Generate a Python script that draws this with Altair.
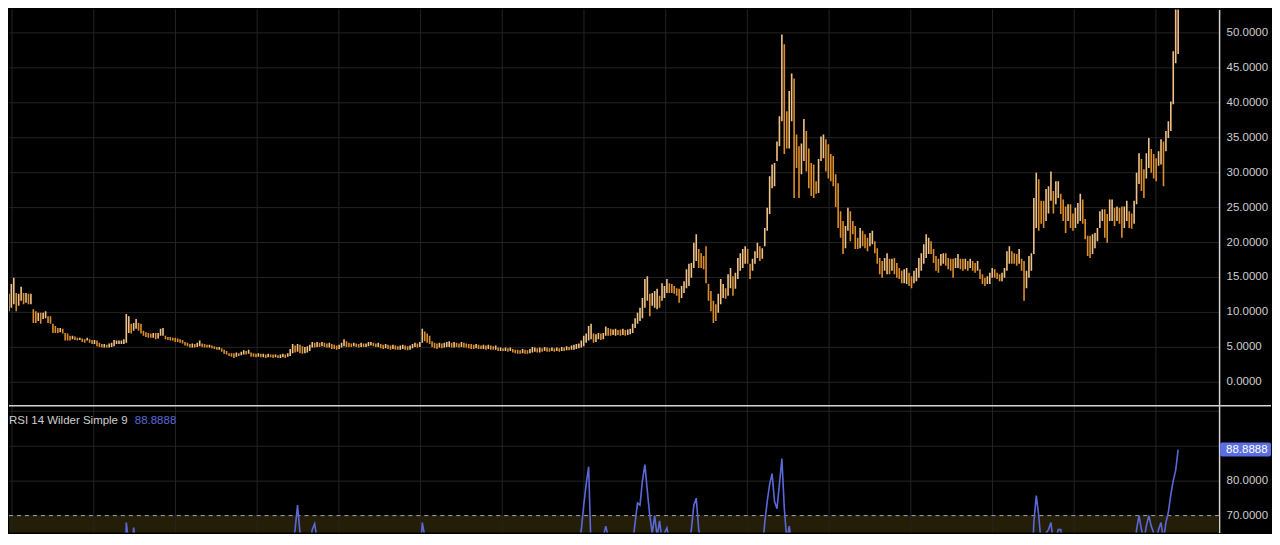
import altair as alt
import pandas as pd

# ---------------- data ----------------
high = [
    10.1, 11.1, 11.6, 12.6, 14.0, 14.9, 12.7, 12.6, 13.6, 12.7,
    12.7, 12.6, 12.6, 10.4, 10.1, 9.9, 9.9, 9.9, 10.1, 9.4,
    9.4, 8.3, 8.0, 7.7, 7.7, 7.6, 7.0, 6.9, 6.6, 6.6,
    6.5, 6.3, 6.3, 6.2, 6.1, 6.3, 6.1, 6.0, 6.0, 5.9,
    5.6, 5.4, 5.4, 5.3, 5.5, 5.6, 6.0, 5.9, 5.9, 5.9,
    6.1, 9.7, 9.4, 8.3, 8.4, 9.0, 8.4, 8.3, 7.3, 7.1,
    7.0, 6.9, 7.0, 7.0, 7.0, 7.6, 7.7, 6.6, 6.4, 6.4,
    6.3, 6.3, 6.2, 6.1, 6.0, 5.7, 5.6, 5.4, 5.5, 5.4,
    5.6, 5.9, 5.5, 5.4, 5.3, 5.3, 5.2, 5.1, 5.0, 5.0,
    4.8, 4.6, 4.4, 4.1, 4.1, 4.1, 4.2, 4.1, 4.3, 4.5,
    4.4, 4.6, 4.2, 4.1, 4.0, 4.1, 4.0, 4.0, 3.9, 4.0,
    3.9, 3.9, 3.9, 3.8, 3.9, 4.0, 3.9, 4.1, 4.7, 5.4,
    5.2, 5.4, 5.3, 5.1, 5.0, 5.1, 5.3, 5.7, 5.6, 5.7,
    5.6, 5.7, 5.6, 5.5, 5.6, 5.4, 5.3, 5.2, 5.3, 5.6,
    6.1, 5.8, 5.6, 5.5, 5.6, 5.5, 5.4, 5.6, 5.5, 5.5,
    5.7, 5.7, 5.6, 5.5, 5.6, 5.4, 5.3, 5.4, 5.3, 5.2,
    5.3, 5.2, 5.1, 5.2, 5.3, 5.2, 5.1, 5.2, 5.4, 5.6,
    5.5, 5.7, 7.6, 7.2, 6.9, 6.6, 5.8, 5.6, 5.5, 5.6,
    5.5, 5.6, 5.7, 5.8, 5.6, 5.7, 5.6, 5.5, 5.7, 5.6,
    5.5, 5.4, 5.4, 5.3, 5.4, 5.3, 5.2, 5.3, 5.2, 5.3,
    5.2, 5.1, 5.2, 4.9, 4.9, 4.8, 4.9, 4.8, 4.9, 4.7,
    4.6, 4.6, 4.5, 4.7, 4.6, 4.5, 4.7, 5.0, 4.9, 4.8,
    4.9, 4.8, 5.0, 4.9, 4.8, 4.9, 4.8, 4.9, 4.8, 5.0,
    4.9, 5.1, 5.0, 5.2, 5.3, 5.4, 5.5, 5.9, 6.6, 6.9,
    8.0, 8.3, 6.9, 6.8, 7.0, 6.9, 7.0, 7.9, 7.7, 7.6,
    7.5, 7.6, 7.4, 7.5, 7.6, 7.4, 7.5, 7.6, 8.3, 9.1,
    9.9, 10.6, 12.0, 14.7, 15.1, 12.6, 12.7, 13.0, 13.3, 12.3,
    14.1, 13.7, 14.7, 14.1, 14.0, 13.7, 13.4, 13.3, 13.7, 14.4,
    16.1, 16.9, 17.0, 19.9, 21.1, 19.0, 18.4, 18.0, 19.4, 14.0,
    13.0, 11.6, 11.1, 12.6, 14.7, 14.0, 13.4, 15.4, 16.3, 15.1,
    15.6, 17.7, 18.4, 19.0, 19.4, 19.0, 16.9, 17.6, 18.7, 19.9,
    19.4, 19.1, 22.0, 24.9, 29.4, 31.1, 31.3, 34.4, 38.0, 49.7,
    48.3, 38.7, 41.6, 44.1, 43.4, 35.4, 33.7, 34.1, 37.6, 35.9,
    33.4, 31.3, 31.1, 28.7, 31.9, 35.1, 35.4, 34.7, 34.0, 32.6,
    32.3, 29.7, 28.4, 24.4, 23.0, 22.3, 24.9, 24.4, 23.0, 22.3,
    20.6, 22.0, 21.6, 21.1, 20.6, 21.3, 21.6, 20.1, 19.1, 17.7,
    17.3, 17.7, 18.4, 17.6, 17.6, 17.7, 17.0, 16.3, 15.9, 16.1,
    16.3, 15.6, 15.1, 15.9, 16.3, 17.7, 18.4, 19.7, 21.1, 20.6,
    20.1, 19.0, 18.0, 17.6, 18.3, 18.4, 18.4, 17.7, 17.6, 17.6,
    17.7, 18.3, 17.6, 17.6, 17.6, 17.3, 17.6, 17.3, 17.0, 17.3,
    16.1, 15.4, 14.9, 15.1, 15.6, 16.3, 16.1, 15.6, 15.4, 15.6,
    16.3, 18.7, 19.4, 18.7, 18.4, 18.3, 19.0, 17.6, 17.3, 15.9,
    18.0, 18.4, 26.3, 29.9, 29.0, 25.9, 25.9, 27.6, 28.0, 30.1,
    27.3, 28.7, 28.7, 26.9, 26.1, 25.1, 25.4, 25.4, 24.1, 24.9,
    25.6, 26.9, 26.1, 23.3, 20.9, 20.9, 21.1, 21.3, 22.0, 24.4,
    24.7, 24.7, 24.0, 26.1, 26.1, 24.9, 25.1, 24.9, 25.1, 25.1,
    25.9, 24.4, 24.1, 25.9, 29.9, 32.7, 31.9, 30.4, 32.7, 34.9,
    33.3, 32.6, 32.0, 33.0, 34.7, 34.4, 35.9, 37.3, 40.1, 47.3,
    56.0, 58.0,
]

low = [
    6.1, 8.3, 9.0, 10.1, 10.6, 11.1, 10.1, 10.9, 11.6, 11.1,
    11.3, 11.1, 11.1, 8.4, 8.4, 8.7, 8.3, 9.0, 9.1, 8.4,
    8.3, 7.0, 7.0, 7.0, 7.1, 6.9, 5.9, 5.9, 5.9, 6.1,
    6.0, 5.9, 6.0, 5.7, 5.6, 5.9, 5.6, 5.4, 5.4, 5.1,
    5.0, 4.9, 4.9, 4.9, 4.9, 5.0, 5.1, 5.4, 5.4, 5.4,
    5.4, 5.6, 7.0, 6.9, 7.3, 7.6, 7.3, 6.9, 6.6, 6.4,
    6.3, 6.3, 6.3, 6.1, 6.2, 6.6, 6.6, 6.1, 6.0, 5.9,
    5.9, 5.7, 5.7, 5.6, 5.5, 5.2, 5.1, 4.9, 4.9, 4.9,
    5.0, 5.1, 5.0, 4.9, 4.9, 4.9, 4.8, 4.7, 4.6, 4.6,
    4.3, 4.0, 3.9, 3.7, 3.6, 3.4, 3.6, 3.7, 3.8, 3.9,
    3.9, 4.0, 3.6, 3.6, 3.5, 3.6, 3.5, 3.5, 3.4, 3.5,
    3.5, 3.4, 3.5, 3.4, 3.4, 3.5, 3.4, 3.6, 3.7, 4.1,
    4.2, 4.3, 4.1, 4.0, 4.1, 4.2, 4.4, 4.9, 4.9, 5.0,
    5.0, 5.1, 5.0, 4.9, 4.9, 4.7, 4.7, 4.6, 4.7, 4.9,
    5.1, 5.0, 5.0, 5.0, 5.1, 5.0, 4.9, 5.0, 5.0, 5.0,
    5.1, 5.2, 5.1, 5.0, 5.0, 4.8, 4.7, 4.8, 4.7, 4.6,
    4.7, 4.6, 4.6, 4.6, 4.7, 4.6, 4.5, 4.6, 4.8, 5.0,
    4.9, 5.0, 5.6, 5.8, 5.6, 5.4, 5.0, 4.8, 4.7, 4.9,
    4.8, 4.9, 5.0, 5.0, 4.9, 4.9, 5.0, 4.9, 5.0, 4.9,
    4.9, 4.8, 4.7, 4.7, 4.8, 4.7, 4.7, 4.7, 4.6, 4.7,
    4.6, 4.6, 4.6, 4.4, 4.4, 4.4, 4.4, 4.3, 4.4, 4.2,
    4.1, 4.0, 4.0, 4.1, 4.0, 4.0, 4.1, 4.2, 4.3, 4.2,
    4.2, 4.3, 4.4, 4.3, 4.3, 4.4, 4.3, 4.4, 4.3, 4.4,
    4.4, 4.5, 4.5, 4.6, 4.6, 4.7, 4.8, 4.9, 5.1, 5.6,
    5.9, 6.1, 5.6, 5.7, 6.1, 6.0, 6.1, 6.6, 6.6, 6.6,
    6.7, 6.6, 6.7, 6.6, 6.7, 6.6, 6.7, 6.8, 7.0, 7.7,
    8.3, 8.7, 9.1, 10.6, 11.6, 9.4, 10.9, 10.6, 10.4, 10.6,
    11.6, 12.0, 12.7, 12.7, 12.7, 12.6, 12.3, 11.3, 12.0, 12.7,
    13.4, 13.7, 14.9, 16.3, 17.3, 16.3, 16.3, 16.1, 14.1, 11.6,
    10.1, 8.4, 8.7, 9.9, 11.1, 12.0, 11.9, 12.3, 13.4, 12.3,
    13.3, 14.7, 15.9, 16.3, 16.9, 16.9, 14.7, 15.9, 16.9, 17.7,
    17.3, 17.6, 19.4, 21.6, 24.0, 27.7, 28.0, 31.6, 33.7, 37.3,
    32.6, 33.4, 33.4, 37.3, 26.3, 30.6, 26.3, 29.7, 31.6, 30.1,
    27.7, 26.6, 26.3, 26.9, 27.0, 31.6, 32.0, 30.1, 29.1, 28.7,
    28.0, 25.0, 22.0, 20.6, 18.3, 19.1, 21.6, 20.1, 21.1, 19.0,
    19.0, 19.1, 19.4, 19.1, 18.7, 19.4, 19.7, 18.4, 16.9, 15.4,
    14.9, 15.9, 15.4, 15.4, 15.9, 15.4, 14.9, 14.7, 14.1, 14.1,
    14.0, 13.7, 13.4, 14.1, 14.4, 14.9, 15.9, 16.9, 17.7, 18.3,
    18.3, 17.0, 15.9, 15.6, 16.6, 16.9, 16.6, 16.1, 15.9, 14.9,
    16.3, 16.3, 16.1, 15.9, 16.1, 15.9, 16.3, 15.9, 15.6, 15.9,
    14.7, 14.0, 13.7, 14.0, 14.0, 14.9, 14.9, 14.7, 14.4, 14.4,
    14.9, 15.9, 16.9, 16.9, 16.9, 16.6, 16.9, 15.9, 11.6, 13.4,
    14.9, 15.9, 18.3, 22.0, 21.6, 22.6, 22.0, 23.0, 24.1, 25.9,
    24.1, 25.4, 26.3, 24.0, 23.0, 21.3, 23.0, 22.0, 21.6, 22.0,
    22.6, 23.0, 22.6, 20.4, 18.0, 17.7, 18.3, 19.1, 20.1, 22.0,
    23.0, 20.6, 19.9, 23.0, 23.0, 22.3, 23.0, 22.6, 20.6, 22.0,
    23.0, 22.0, 21.9, 22.6, 25.4, 28.3, 27.3, 26.3, 29.1, 30.6,
    29.9, 29.1, 28.7, 30.9, 31.1, 28.0, 33.0, 34.9, 35.9, 39.7,
    45.6, 46.9,
]

rsi = [
    52, 54, 56, 57, 60, 62, 57, 57, 60, 58,
    59, 60, 64, 50, 49, 48, 47, 48, 49, 46,
    46, 42, 41, 40, 40, 39, 36, 36, 35, 36,
    36, 35, 36, 35, 35, 37, 36, 35, 35, 34,
    33, 32, 32, 32, 34, 35, 38, 39, 39, 39,
    41, 68, 62, 58, 66.6, 60, 55, 52, 46, 45,
    44, 44, 45, 44, 45, 49, 50, 44, 43, 42,
    42, 41, 41, 40, 39, 37, 36, 35, 36, 35,
    37, 40, 37, 36, 36, 35, 35, 34, 33, 33,
    31, 29, 28, 27, 27, 27, 30, 32, 35, 38,
    37, 40, 35, 34, 33, 35, 34, 34, 33, 35,
    35, 34, 35, 34, 35, 37, 36, 40, 52, 62,
    66, 73, 65, 60, 57, 58, 61, 66, 67.7, 63,
    64, 62, 60, 58, 56, 52, 50, 48, 51, 55,
    60, 56, 54, 53, 55, 53, 51, 54, 53, 53,
    56, 56, 54, 53, 54, 50, 48, 50, 48, 47,
    49, 47, 46, 48, 50, 48, 46, 48, 52, 55,
    54, 57, 68, 64, 60, 56, 50, 47, 46, 48,
    47, 49, 50, 51, 49, 50, 50, 49, 51, 49,
    48, 47, 46, 45, 47, 45, 44, 45, 44, 45,
    44, 43, 44, 40, 40, 39, 41, 40, 41, 38,
    37, 36, 36, 39, 37, 37, 40, 44, 43, 42,
    43, 42, 45, 44, 43, 45, 44, 45, 44, 47,
    46, 49, 48, 51, 53, 55, 61, 66, 73, 79,
    84, 60, 55, 56, 58, 61, 64, 67, 64, 60,
    58, 59, 56, 57, 58, 56, 57, 58, 62, 68,
    73.6, 73, 80, 84.6, 77, 70, 65, 70, 64, 68.5,
    63, 65, 66.5, 63, 62, 61, 58, 57, 56, 62,
    64, 62, 66, 73, 75, 66, 63, 62, 64, 52,
    45, 38, 40, 45, 52, 50, 49, 54, 57, 53,
    55, 60, 62, 64, 63, 62, 53, 55, 58, 61,
    59, 60, 68, 74, 79, 82, 74, 72, 79, 86.3,
    72, 63, 67, 62, 48, 54, 50, 51, 55, 53,
    50, 47, 46, 46, 49, 54, 55, 53, 52, 50,
    49, 45, 40, 37, 35, 36, 40, 39, 39, 37,
    37, 38, 38, 38, 37, 39, 39, 37, 35, 33,
    33, 35, 35, 35, 36, 35, 34, 34, 33, 34,
    34, 33, 33, 35, 37, 41, 44, 48, 51, 50,
    49, 47, 45, 45, 46, 47, 47, 46, 46, 45,
    46, 47, 46, 46, 46, 46, 47, 46, 46, 46,
    43, 41, 40, 41, 42, 44, 44, 43, 43, 43,
    45, 51, 53, 52, 51, 51, 52, 48, 42, 44,
    48, 50, 68, 75.7, 70, 62, 61, 65, 66, 68,
    62, 63, 66, 66, 60, 57, 54, 55, 54, 52,
    54, 55, 58, 56, 50, 46, 43, 43, 45, 47,
    50, 55, 56, 54, 53, 58, 58, 55, 56, 55,
    56, 54, 54, 57, 66, 70, 66, 63, 67, 70,
    67, 65, 63, 66, 68, 63, 68, 71, 76, 80,
    83, 88.8888,
]

# bar positions (index) of the vertical time gridlines
grid_idx = [4.3, 37.7, 71.1, 104.5, 137.9, 171.3, 204.7, 238.1,
            271.5, 304.9, 338.3, 371.7, 405.1, 438.5, 471.9]
price_ticks = [0, 5, 10, 15, 20, 25, 30, 35, 40, 45, 50]
rsi_ticks = [70, 80, 90, 100]
rsi_title = "RSI 14 Wilder Simple 9"

# ---------------- tables ----------------
n = min(len(high), len(low), len(rsi))
df = pd.DataFrame({"i": list(range(n)), "high": high[:n], "low": low[:n], "rsi": rsi[:n]})
mid = (df["high"] + df["low"]) / 2
df["dir"] = (mid.diff().fillna(0) >= 0).map({True: "up", False: "down"})
grid_df = pd.DataFrame({"g": grid_idx})
one = pd.DataFrame({"k": [0]})
last_rsi = float(df["rsi"].iloc[-1])
last_label = f"{last_rsi:.4f}"

# ---------------- style / layout ----------------
BG = "#000000"
GRID = "#232323"
TXT = "#cfcfcf"
SEP = "#d4d4d4"
BLUE = "#5a68d8"
BOX = "#5b6fe3"
BAND = "#241e09"
UP = "#f1c287"
DOWN = "#dc8e2c"
FONT = "Arial"

PLOT_W = 1212
AXIS_W = 52
TOP_H = 397
BOT_H = 127
X0, DX = 0.55, 2.45

xs = alt.Scale(domain=[(8 - X0) / DX, (1220 - X0) / DX], nice=False, zero=False)
ys_top = alt.Scale(domain=[(381 - 405) / 7, (381 - 8) / 7], nice=False, zero=False)
ys_bot = alt.Scale(domain=[70 + (515 - 532) / 3.5, 70 + (515 - 405) / 3.5], nice=False, zero=False)

axis_common = dict(
    orient="right", title=None, ticks=False, domain=True, domainColor=SEP,
    domainWidth=1.5, grid=True, gridColor=GRID, gridWidth=1, labelColor=TXT,
    labelFont=FONT, labelFontSize=11.5, labelPadding=7, minExtent=AXIS_W,
    maxExtent=AXIS_W, format=".4f",
)
top_axis = alt.Axis(values=price_ticks, **axis_common)
# the 90 label sits under the last-value badge, so it is left blank
bot_axis = alt.Axis(values=rsi_ticks,
                    labelExpr="datum.value >= 90 ? '' : format(datum.value, '.4f')",
                    **axis_common)

# ---------------- price pane ----------------
vgrid_top = alt.Chart(grid_df).mark_rule(color=GRID, strokeWidth=1).encode(
    x=alt.X("g:Q", scale=xs, axis=None))
bars = alt.Chart(df).mark_rule(clip=True, strokeWidth=1.6).encode(
    x=alt.X("i:Q", scale=xs, axis=None),
    y=alt.Y("low:Q", scale=ys_top, axis=top_axis),
    y2="high:Q",
    color=alt.Color("dir:N", scale=alt.Scale(domain=["up", "down"], range=[UP, DOWN]), legend=None),
)
top = alt.layer(vgrid_top, bars).properties(width=PLOT_W, height=TOP_H)

# ---------------- RSI pane ----------------
band = alt.Chart(one).mark_rect(clip=True, color=BAND).encode(
    x=alt.value(0), x2=alt.value(PLOT_W),
    y=alt.YDatum(70, scale=ys_bot, axis=bot_axis), y2=alt.Y2Datum(30))
vgrid_bot = alt.Chart(grid_df).mark_rule(color=GRID, strokeWidth=1).encode(
    x=alt.X("g:Q", scale=xs, axis=None))
ob_line = alt.Chart(one).mark_rule(color="#a8a8a8", strokeWidth=1, strokeDash=[4, 4]).encode(
    y=alt.YDatum(70, scale=ys_bot, axis=bot_axis))
rsi_line = alt.Chart(df).mark_line(clip=True, color=BLUE, strokeWidth=1.6).encode(
    x=alt.X("i:Q", scale=xs, axis=None),
    y=alt.Y("rsi:Q", scale=ys_bot, axis=bot_axis))
sep = alt.Chart(one).mark_rule(color=SEP, strokeWidth=1.5).encode(
    x=alt.value(0), x2=alt.value(PLOT_W + AXIS_W), y=alt.value(0))
t_title = alt.Chart(one).mark_text(align="left", baseline="middle", color=TXT, font=FONT, fontSize=11.5).encode(
    x=alt.value(0), y=alt.value(15), text=alt.value(rsi_title))
t_val = alt.Chart(one).mark_text(align="left", baseline="middle", color=BLUE, font=FONT, fontSize=11.5).encode(
    x=alt.value(126), y=alt.value(15), text=alt.value(last_label))
box = alt.Chart(one).mark_rect(color=BOX, cornerRadius=2).encode(
    x=alt.value(PLOT_W + 1), x2=alt.value(PLOT_W + AXIS_W),
    y=alt.YDatum(last_rsi + 2, scale=ys_bot, axis=bot_axis), y2=alt.Y2Datum(last_rsi - 2))
box_txt = alt.Chart(one).mark_text(align="left", baseline="middle", color="#ffffff", font=FONT, fontSize=11.5).encode(
    x=alt.value(PLOT_W + 7), y=alt.YDatum(last_rsi, scale=ys_bot, axis=bot_axis), text=alt.value(last_label))

bottom = alt.layer(band, vgrid_bot, ob_line, rsi_line, sep, t_title, t_val, box, box_txt).properties(
    width=PLOT_W, height=BOT_H)

chart = (
    alt.vconcat(top, bottom, spacing=0, bounds="flush")
    .properties(background=BG, padding=0)
    .configure_view(stroke=None)
    .configure_concat(spacing=0)
)

chart.save("out.html", embed_options={"renderer": "svg", "actions": False})
